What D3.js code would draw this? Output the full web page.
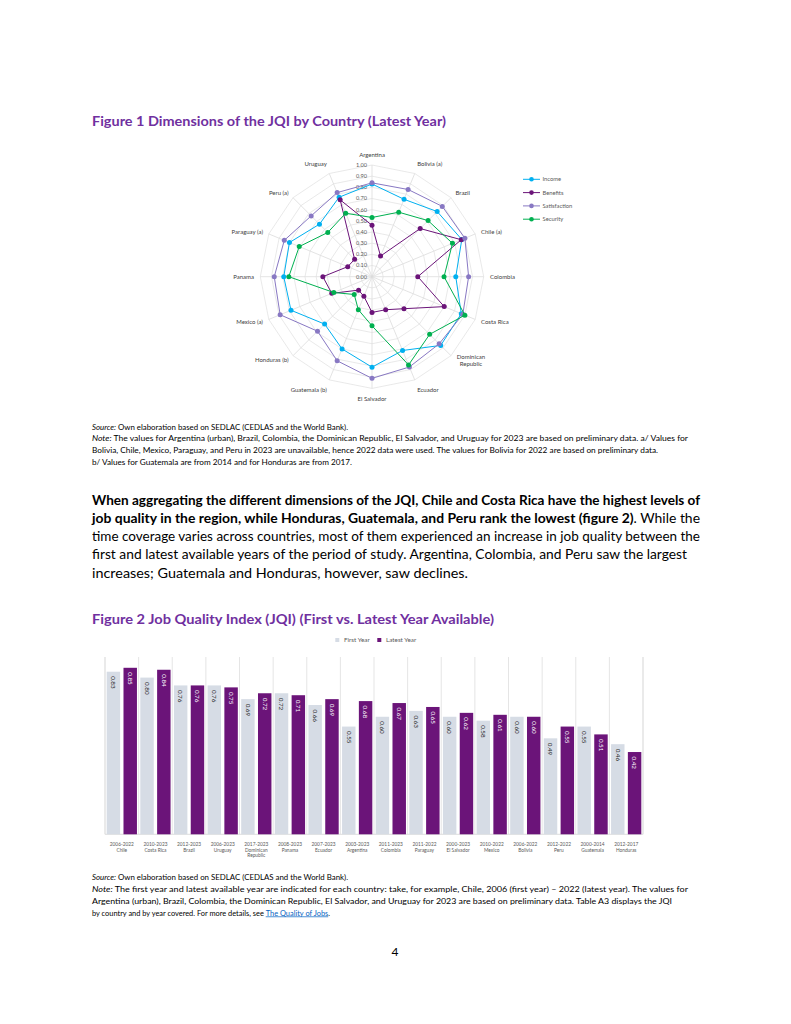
<!DOCTYPE html>
<html><head><meta charset="utf-8">
<script src="https://cdn.jsdelivr.net/npm/d3@7"></script>
<style>body{margin:0;background:#fff}svg{display:block}</style>
</head><body>
<svg id="page" width="791" height="1024"></svg>
<script>
// ---------- Figure 1 data (radar) ----------
const radarCategories = ["Argentina","Bolivia (a)","Brazil","Chile (a)","Colombia","Costa Rica","Dominican Republic","Ecuador","El Salvador","Guatemala (b)","Honduras (b)","Mexico (a)","Panama","Paraguay (a)","Peru (a)","Uruguay"];
const incomeValues       = [0.83,0.75,0.825,0.87,0.75,0.865,0.87,0.715,0.81,0.70,0.60,0.785,0.79,0.80,0.665,0.77];
const benefitsValues     = [0.46,0.20,0.61,0.865,0.41,0.70,0.405,0.32,0.32,0.19,0.17,0.39,0.44,0.235,0.22,0.745];
const satisfactionValues = [0.84,0.845,0.89,0.90,0.865,0.88,0.85,0.875,0.91,0.815,0.69,0.89,0.875,0.85,0.77,0.815];
const securityValues     = [0.53,0.625,0.71,0.78,0.645,0.90,0.73,0.855,0.44,0.32,0.225,0.37,0.745,0.705,0.56,0.615];
const radarSeriesNames = ["Income","Benefits","Satisfaction","Security"];
const radarTicks = [0,0.1,0.2,0.3,0.4,0.5,0.6,0.7,0.8,0.9,1.0];

// ---------- Figure 2 data (bars) ----------
const barCountries = ["Chile","Costa Rica","Brazil","Uruguay","Dominican Republic","Panama","Ecuador","Argentina","Colombia","Paraguay","El Salvador","Mexico","Bolivia","Peru","Guatemala","Honduras"];
const barYears = ["2006-2022","2010-2023","2012-2023","2006-2023","2017-2023","2008-2023","2007-2023","2003-2023","2011-2023","2011-2022","2000-2023","2010-2022","2006-2022","2012-2022","2000-2014","2012-2017"];
const firstYearValues  = [0.83,0.80,0.76,0.76,0.69,0.72,0.66,0.55,0.60,0.63,0.60,0.58,0.60,0.49,0.55,0.46];
const latestYearValues = [0.85,0.84,0.76,0.75,0.72,0.71,0.69,0.68,0.67,0.65,0.62,0.61,0.60,0.55,0.51,0.42];
const barSeriesNames = ["First Year","Latest Year"];

// ---------- page ----------
const FONT = "Lato, 'Open Sans', sans-serif";
const svg = d3.select("#page");
svg.append("rect").attr("width",791).attr("height",1024).attr("fill","#fff");

function textLine(segs, x, y, endX, size, color) {
  const g = svg.append("g");
  const nodes = segs.map(s => g.append("text")
    .attr("x", x).attr("y", y)
    .attr("font-size", size).attr("font-family", FONT)
    .attr("fill", s.fill || color)
    .attr("font-weight", s.bold ? "bold" : "normal")
    .attr("font-style", s.italic ? "italic" : "normal")
    .style("white-space","pre")
    .text(s.t));
  const widths = nodes.map(n => n.node().getComputedTextLength());
  const total = d3.sum(widths);
  const k = endX ? (endX - x) / total : 1;
  let cx = x;
  nodes.forEach((n, i) => {
    n.attr("x", cx);
    if (endX) n.attr("textLength", widths[i]*k).attr("lengthAdjust","spacingAndGlyphs");
    if (segs[i].underline) {
      g.append("line").attr("x1", cx).attr("x2", cx + widths[i]*k)
        .attr("y1", y + size*0.18).attr("y2", y + size*0.18)
        .attr("stroke", segs[i].fill || color).attr("stroke-width", 0.7);
    }
    cx += widths[i]*k;
  });
}

const TITLE_COLOR = "#7030a0";
textLine([{t:"Figure 1 Dimensions of the JQI by Country (Latest Year)", bold:true}], 92, 125.5, 446, 13, TITLE_COLOR);

// ---------- Radar chart ----------
const cx0 = 372, cy0 = 276.7, R = 111.7;
const n = radarCategories.length;
const rScale = d3.scaleLinear().domain([0,1]).range([0,R]);
const ang = i => i * 2 * Math.PI / n;
const radar = svg.append("g").attr("transform", `translate(${cx0},${cy0})`);
const ringLine = d3.lineRadial().angle((d,i)=>ang(i)).radius(d=>rScale(d)).curve(d3.curveLinearClosed);

radarTicks.slice(1).forEach(t => {
  radar.append("path").attr("d", ringLine(radarCategories.map(()=>t)))
    .attr("fill","none").attr("stroke","#e3e3e3").attr("stroke-width",0.8);
});
radarCategories.forEach((c,i) => {
  const a = ang(i);
  radar.append("line").attr("x1",0).attr("y1",0)
    .attr("x2", rScale(1)*Math.sin(a)).attr("y2", -rScale(1)*Math.cos(a))
    .attr("stroke","#dcdcdc").attr("stroke-width",0.8);
});
// radial tick labels
radarTicks.forEach(t => {
  radar.append("text").attr("x",-5).attr("y",-rScale(t)).attr("dy","0.35em")
    .attr("text-anchor","end").attr("font-size",5.6).attr("font-family",FONT)
    .attr("fill","#595959").text(d3.format(".2f")(t));
});
// category labels
radarCategories.forEach((c,i) => {
  const a = ang(i), s = Math.sin(a), co = Math.cos(a);
  const rl = 118;
  let x = rl*s;
  const y = -rl*co;
  const multi = c === "Dominican Republic";
  let anchor = Math.abs(s) < 0.1 ? "middle" : (s > 0 ? "start" : "end");
  if (multi) { anchor = "middle"; x += 15.5; }
  const lines = multi ? ["Dominican","Republic"] : [c];
  const t = radar.append("text").attr("x",x).attr("y",y)
    .attr("text-anchor",anchor).attr("font-size",6).attr("font-family",FONT).attr("fill","#404040");
  let base;
  if (co > 0.9) base = -1.5;                // top
  else if (co < -0.9) base = 6;             // bottom
  else base = 2.1 - (lines.length-1)*3.6;   // sides, vertically centred
  lines.forEach((l,j) => t.append("tspan").attr("x",x).attr("y", y + base + j*7.2).text(l));
});

const radarSeries = [
  {name: radarSeriesNames[0], values: incomeValues, color: "#00b0f0"},
  {name: radarSeriesNames[1], values: benefitsValues, color: "#6b1479"},
  {name: radarSeriesNames[2], values: satisfactionValues, color: "#8878c3"},
  {name: radarSeriesNames[3], values: securityValues, color: "#00b050"}
];
radarSeries.forEach(s => {
  radar.append("path").attr("d", ringLine(s.values)).attr("fill","none")
    .attr("stroke", s.color).attr("stroke-width",1);
  s.values.forEach((v,i) => {
    radar.append("circle").attr("cx", rScale(v)*Math.sin(ang(i))).attr("cy", -rScale(v)*Math.cos(ang(i)))
      .attr("r",2.5).attr("fill", s.color);
  });
});
// legend
radarSeries.forEach((s,i) => {
  const y = 179.3 + i*13.3;
  svg.append("line").attr("x1",523).attr("x2",540).attr("y1",y).attr("y2",y).attr("stroke",s.color).attr("stroke-width",1);
  svg.append("circle").attr("cx",531.5).attr("cy",y).attr("r",2.3).attr("fill",s.color);
  svg.append("text").attr("x",542.5).attr("y",y).attr("dy","0.35em").attr("font-size",5.8)
    .attr("font-family",FONT).attr("fill","#595959").text(s.name);
});

// notes fig 1
const NOTE = 7, NC = "#000";
textLine([{t:"Source:", italic:true},{t:" Own elaboration based on SEDLAC (CEDLAS and the World Bank)."}], 92, 429.5, 348, NOTE, NC);
textLine([{t:"Note:", italic:true},{t:" The values for Argentina (urban), Brazil, Colombia, the Dominican Republic, El Salvador, and Uruguay for 2023 are based on preliminary data. a/ Values for"}], 92, 441, 688, NOTE, NC);
textLine([{t:"Bolivia, Chile, Mexico, Paraguay, and Peru in 2023 are unavailable, hence 2022 data were used. The values for Bolivia for 2022 are based on preliminary data."}], 92, 452.5, 658, NOTE, NC);
textLine([{t:"b/ Values for Guatemala are from 2014 and for Honduras are from 2017."}], 92, 464.5, 352, NOTE, NC);

// paragraph
const P = 13;
textLine([{t:"When aggregating the different dimensions of the JQI, Chile and Costa Rica have the highest levels of", bold:true}], 92, 504.5, 700, P, "#000");
textLine([{t:"job quality in the region, while Honduras, Guatemala, and Peru rank the lowest (figure 2)", bold:true},{t:". While the"}], 92, 522.8, 700, P, "#000");
textLine([{t:"time coverage varies across countries, most of them experienced an increase in job quality between the"}], 92, 541, 700, P, "#000");
textLine([{t:"first and latest available years of the period of study. Argentina, Colombia, and Peru saw the largest"}], 92, 559.3, 687, P, "#000");
textLine([{t:"increases; Guatemala and Honduras, however, saw declines."}], 92, 577.5, 468, P, "#000");

textLine([{t:"Figure 2 Job Quality Index (JQI) (First vs. Latest Year Available)", bold:true}], 92, 623.5, 494, 13, TITLE_COLOR);

// ---------- Bar chart ----------
const x0 = 105, x1 = 643, yBottom = 834.3, yTop = 658;
const x = d3.scaleBand().domain(barCountries).range([x0,x1]).padding(0);
const xs = d3.scaleBand().domain(barSeriesNames).range([0, x.bandwidth()]).paddingInner(0.2).paddingOuter(0.1);
const y = d3.scaleLinear().domain([0,0.9]).range([yBottom, yTop]);
const bars = svg.append("g");
const sepXs = barCountries.map(c => x(c)).concat([x1]);
sepXs.forEach((sx,i) => {
  bars.append("line").attr("x1",sx).attr("x2",sx).attr("y1",657).attr("y2",yBottom)
    .attr("stroke", (i===0||i===sepXs.length-1) ? "#d0d0d0" : "#e2e2e2").attr("stroke-width",0.9);
});
bars.append("line").attr("x1",x0).attr("x2",x1).attr("y1",yBottom).attr("y2",yBottom).attr("stroke","#d9d9d9").attr("stroke-width",0.9);

const barColors = {"First Year":"#d6dce5","Latest Year":"#6b1479"};
const labelColors = {"First Year":"#262626","Latest Year":"#ffffff"};
barCountries.forEach((c,i) => {
  [["First Year", firstYearValues[i]], ["Latest Year", latestYearValues[i]]].forEach(([s,v]) => {
    const bx = x(c) + xs(s), by = y(v);
    bars.append("rect").attr("x",bx).attr("y",by).attr("width",xs.bandwidth()).attr("height",yBottom-by).attr("fill",barColors[s]);
    bars.append("text").attr("transform",`translate(${bx+xs.bandwidth()/2},${by+4.5}) rotate(90)`)
      .attr("text-anchor","start").attr("dy","0.35em").attr("font-size",6.3).attr("font-family",FONT)
      .attr("fill",labelColors[s]).text(d3.format(".2f")(v));
  });
  const cxm = x(c) + x.bandwidth()/2;
  const lab = bars.append("text").attr("text-anchor","middle").attr("font-size",4.8).attr("font-family",FONT).attr("fill","#595959");
  const lines = [barYears[i]].concat(c === "Dominican Republic" ? ["Dominican","Republic"] : [c]);
  lines.forEach((l,j) => lab.append("tspan").attr("x",cxm).attr("y",846 + j*5.5).text(l));
});
// legend fig 2
[["First Year",335.3,344],["Latest Year",377.3,386]].forEach(([s,sx,tx]) => {
  svg.append("rect").attr("x",sx).attr("y",638).attr("width",4).attr("height",4).attr("fill",barColors[s]);
  svg.append("text").attr("x",tx).attr("y",640).attr("dy","0.35em").attr("font-size",6.3).attr("font-family",FONT).attr("fill","#595959").text(s);
});

// notes fig 2
textLine([{t:"Source:", italic:true},{t:" Own elaboration based on SEDLAC (CEDLAS and the World Bank)."}], 92, 879.5, 348, NOTE, NC);
textLine([{t:"Note:", italic:true},{t:" The first year and latest available year are indicated for each country: take, for example, Chile, 2006 (first year) \u2013 2022 (latest year). The values for"}], 92, 891.5, 688, NOTE, NC);
textLine([{t:"Argentina (urban), Brazil, Colombia, the Dominican Republic, El Salvador, and Uruguay for 2023 are based on preliminary data. Table A3 displays the JQI"}], 92, 903.5, 672, NOTE, NC);
textLine([{t:"by country and by year covered. For more details, see "},{t:"The Quality of Jobs", fill:"#0563c1", underline:true},{t:"."}], 92, 915.5, 330, NOTE, NC);

// page number
svg.append("text").attr("x",395).attr("y",956).attr("text-anchor","middle").attr("font-size",12).attr("font-family",FONT).attr("fill","#000").text("4");
</script>
</body></html>
